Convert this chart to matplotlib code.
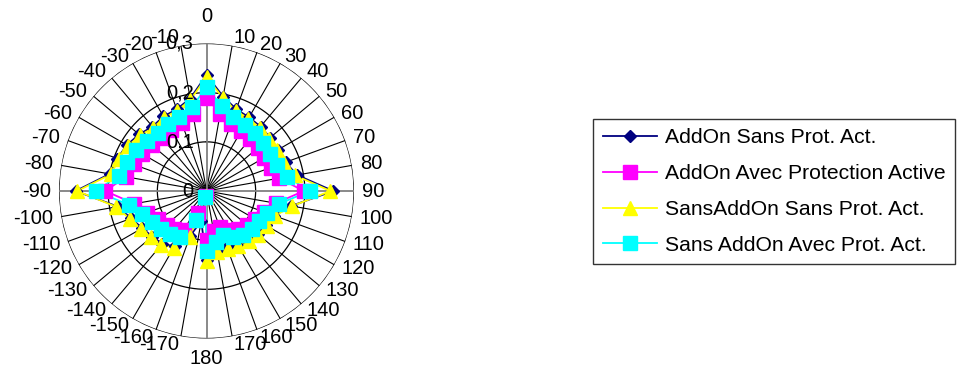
import numpy as np
import matplotlib
matplotlib.use("Agg")
import matplotlib.pyplot as plt
from matplotlib.transforms import ScaledTranslation
from matplotlib.lines import Line2D

plt.rcParams['font.family'] = ['Liberation Sans', 'DejaVu Sans']

# Categories (angle in degrees), in the order they go round the radar
angles_deg = [0, 10, 20, 30, 40, 50, 60, 70, 80, 90, 100, 110, 120, 130, 140, 150, 160, 170,
              180, -170, -160, -150, -140, -130, -120, -110, -100, -90, -80, -70, -60, -50,
              -40, -30, -20, -10]
angle_labels = [str(a) for a in angles_deg]

r_ticks = [0, 0.1, 0.2, 0.3]
r_tick_labels = ["0", "0,1", "0,2", "0,3"]

series_names = ["AddOn Sans Prot. Act.", "AddOn Avec Protection Active",
                "SansAddOn Sans Prot. Act.", "Sans AddOn Avec Prot. Act."]

addon_sans_prot = [0.236, 0.195, 0.177, 0.173, 0.171, 0.169, 0.168, 0.171, 0.187, 0.258,
                   0.175, 0.146, 0.140, 0.136, 0.132, 0.126, 0.122, 0.124, 0.141,
                   0.062, 0.097, 0.130, 0.140, 0.144, 0.151, 0.163, 0.183, 0.266,
                   0.200, 0.193, 0.187, 0.179, 0.171, 0.175, 0.177, 0.191]
addon_avec_prot = [0.189, 0.160, 0.146, 0.141, 0.139, 0.137, 0.136, 0.139, 0.150, 0.198,
                   0.143, 0.125, 0.115, 0.108, 0.100, 0.092, 0.078, 0.082, 0.100,
                   0.010, 0.048, 0.092, 0.102, 0.106, 0.113, 0.128, 0.149, 0.206,
                   0.166, 0.158, 0.151, 0.144, 0.140, 0.143, 0.147, 0.158]
sansaddon_sans_prot = [0.232, 0.192, 0.174, 0.170, 0.168, 0.166, 0.165, 0.168, 0.183, 0.252,
                       0.177, 0.148, 0.142, 0.138, 0.134, 0.128, 0.125, 0.127, 0.143,
                       0.010, 0.099, 0.133, 0.143, 0.147, 0.154, 0.166, 0.186, 0.263,
                       0.197, 0.190, 0.184, 0.176, 0.168, 0.172, 0.174, 0.188]
sansaddon_avec_prot = [0.211, 0.176, 0.160, 0.155, 0.153, 0.151, 0.150, 0.153, 0.166, 0.210,
                       0.150, 0.132, 0.123, 0.120, 0.116, 0.108, 0.096, 0.106, 0.123,
                       0.012, 0.062, 0.109, 0.114, 0.121, 0.128, 0.139, 0.161, 0.225,
                       0.181, 0.173, 0.166, 0.159, 0.155, 0.158, 0.161, 0.173]

styles = [
    dict(color="#000080", marker="D", ms=6.5),
    dict(color="#FF00FF", marker="s", ms=9.5),
    dict(color="#FFFF00", marker="^", ms=10.0),
    dict(color="#00FFFF", marker="s", ms=9.5),
]
all_series = [addon_sans_prot, addon_avec_prot, sansaddon_sans_prot, sansaddon_avec_prot]

DPI = 100
fig = plt.figure(figsize=(9.67, 3.74), dpi=DPI)
ax = fig.add_axes([0.0610, 0.0949, 0.3051, 0.7888], projection='polar')
ax.set_theta_zero_location('N')
ax.set_theta_direction(-1)
ax.set_ylim(0, r_ticks[-1])
ax.set_xticks([])
ax.set_yticks([])
ax.grid(False)
ax.spines['polar'].set_visible(False)

theta = np.deg2rad(np.mod(angles_deg, 360))
rmax = r_ticks[-1]

# circular gridlines
ring_t = np.linspace(0, 2 * np.pi, 721)
for r in r_ticks[1:]:
    ax.plot(ring_t, np.full_like(ring_t, r), color="black", lw=0.9, zorder=1)

# spokes
for t, a in zip(theta, angles_deg):
    main = a in (0, 90, 180, -90)
    ax.plot([t, t], [0, rmax], color="#808080" if main else "black",
            lw=1.3 if main else 0.8, zorder=1 if not main else 1.5)

# series
for vals, st, name in zip(all_series, styles, series_names):
    t_closed = np.append(theta, theta[0])
    v_closed = np.append(vals, vals[0])
    ax.plot(t_closed, v_closed, color=st["color"], lw=1.3, zorder=3, clip_on=False)
    ax.plot(theta, vals, linestyle="none", marker=st["marker"], ms=st["ms"],
            markerfacecolor=st["color"], markeredgecolor=st["color"], zorder=4, clip_on=False)

# category labels around the outer ring
gap_px = 8
for t, lab in zip(theta, angle_labels):
    s, c = np.sin(t), np.cos(t)
    g = gap_px
    if abs(s) < 1e-3:
        ha = "center"
        va = "bottom" if c > 0 else "top"
        g = 17 if c > 0 else 10
    else:
        ha = "left" if s > 0 else "right"
        va = "center"
    off = ScaledTranslation(g * s / DPI, g * c / DPI, fig.dpi_scale_trans)
    ax.text(t, rmax, lab, ha=ha, va=va, fontsize=14.5,
            transform=ax.transData + off, zorder=6)

# value-axis labels along the 0 spoke
off_r = ScaledTranslation(-13 / DPI, 0, fig.dpi_scale_trans)
for r, lab in zip(r_ticks, r_tick_labels):
    ax.text(0, r, lab, ha="right", va="center", fontsize=14.5,
            transform=ax.transData + off_r, zorder=6)

# legend
handles = [Line2D([0], [0], color=st["color"], lw=1.3, marker=st["marker"],
                  ms=st["ms"], markerfacecolor=st["color"], markeredgecolor=st["color"])
           for st in styles]
leg = fig.legend(handles, series_names, loc="center left",
                 bbox_to_anchor=(593 / 967, 182.5 / 374), frameon=True, fancybox=False,
                 edgecolor="black", fontsize=15.2, handlelength=2.6, handletextpad=0.35,
                 labelspacing=0.8, borderpad=0.45, borderaxespad=0)
leg.get_frame().set_linewidth(1.0)

fig.savefig("out.png", dpi=DPI, facecolor="white")
